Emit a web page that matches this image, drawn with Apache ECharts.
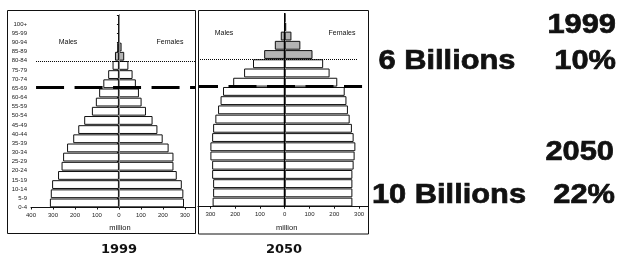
<!DOCTYPE html>
<html>
<head>
<meta charset="utf-8">
<script src="https://cdn.jsdelivr.net/npm/echarts@6/dist/echarts.min.js"></script>
<style>
html, body { margin: 0; padding: 0; background: #fff; }
#main { width: 621px; height: 257px; }
</style>
</head>
<body>
<div id="main"></div>
<script>
// age groups, bottom to top
var ageGroups = ['0-4', '5-9', '10-14', '15-19', '20-24', '25-29', '30-34', '35-39', '40-44', '45-49',
    '50-54', '55-59', '60-64', '65-69', '70-74', '75-79', '80-84', '85-89', '90-94', '95-99', '100+'];

// million people
var male1999   = [314, 310, 304, 277, 261, 254, 236, 208, 185, 158, 123, 105, 90, 71, 49, 29, 18, 8, 2, 0.5, 0.2];
var female1999 = [296, 293, 286, 263, 248, 248, 226, 199, 175, 153, 123, 103, 91, 77, 62, 43, 24, 12, 3, 0.5, 0.2];
var male2050   = [291, 289, 289, 293, 293, 300, 300, 293, 289, 280, 269, 259, 249, 208, 164, 128, 83, 40, 16, 2, 0.3];
var female2050 = [273, 273, 273, 273, 278, 282, 285, 278, 271, 262, 255, 249, 242, 212, 181, 155, 112, 63, 27, 6, 1];

var ticks1999 = [-400, -300, -200, -100, 0, 100, 200, 300];
var ticks2050 = [-300, -200, -100, 0, 100, 200, 300];

var firstOldGroup = 16;   // 80-84 and up are shaded
var retireLine = 13.1;    // 65+ line, in age-group units

var summary = [
    {year: '1999', pop: '6 Billions', share: '10%'},
    {year: '2050', pop: '10 Billions', share: '22%'}
];

var smallFont = 'Liberation Sans';

function bars(values, sign) {
    return values.map(function (v, i) {
        return {
            value: sign * v,
            itemStyle: {color: i >= firstOldGroup ? '#b4b4b4' : '#fff'}
        };
    });
}

function barSeries(name, values, sign, idx, lineColor) {
    var s = {
        name: name,
        type: 'bar',
        xAxisIndex: idx,
        yAxisIndex: idx,
        stack: 'p' + idx,
        barCategoryGap: '4%',
        data: bars(values, sign),
        itemStyle: {borderColor: '#111', borderWidth: 1},
        silent: true
    };
    if (lineColor) {
        s.markLine = {
            symbol: 'none', silent: true, label: {show: false},
            lineStyle: {color: lineColor, width: 1, type: 'solid'},
            data: [{xAxis: 0}]
        };
    }
    return s;
}

// empty helper series on the 0..21 age axis, used only for the guide lines
function guideSeries(idx, lines) {
    return {
        type: 'line', xAxisIndex: idx, yAxisIndex: idx + 2, data: [], silent: true, z: 10,
        markLine: {
            symbol: 'none', silent: true, label: {show: false},
            data: lines
        }
    };
}

function valueAxis(idx, min, max, ticks) {
    return {
        type: 'value', gridIndex: idx, min: min, max: max,
        splitLine: {show: false},
        axisLine: {show: true, lineStyle: {color: '#111', width: 1}},
        axisTick: {show: true, length: 2, customValues: ticks, lineStyle: {color: '#111'}},
        axisLabel: {
            customValues: ticks, margin: 5, fontSize: 6, color: '#222', fontFamily: smallFont,
            formatter: function (v) { return Math.abs(v); }
        }
    };
}

var dotted = {color: '#000', width: 1, type: [1, 1]};
var dashed1 = {color: '#000', width: 3, type: [28, 10.5], dashOffset: 0};
var dashed2 = {color: '#000', width: 3, type: [28, 10.5], dashOffset: 8};

var chart = echarts.init(document.getElementById('main'));
var option = {
    animation: false,
    backgroundColor: '#fff',
    grid: [
        {left: 31, top: 15, width: 164, height: 192.5, outerBoundsMode: 'none'},
        {left: 198, top: 13, width: 170, height: 193.7, outerBoundsMode: 'none'}
    ],
    xAxis: [
        valueAxis(0, -400, 346, ticks1999),
        valueAxis(1, -350, 336, ticks2050)
    ],
    yAxis: [
        {
            type: 'category', gridIndex: 0, data: ageGroups,
            axisLine: {show: true, lineStyle: {color: '#111'}},
            axisTick: {show: true, length: 2, lineStyle: {color: '#111'}},
            axisLabel: {
                interval: 0, fontSize: 6, color: '#222', fontFamily: smallFont,
                margin: 4, verticalAlign: 'top', lineHeight: 9
            }
        },
        {
            type: 'category', gridIndex: 1, data: ageGroups,
            axisLine: {show: false}, axisTick: {show: false}, axisLabel: {show: false}
        },
        {type: 'value', gridIndex: 0, min: 0, max: 21, show: false},
        {type: 'value', gridIndex: 1, min: 0, max: 21, show: false}
    ],
    series: [
        barSeries('Males', male1999, -1, 0, '#8a8a8a'),
        barSeries('Females', female1999, 1, 0),
        barSeries('Males', male2050, -1, 1, '#000'),
        barSeries('Females', female2050, 1, 1),
        guideSeries(0, [
            [{coord: [-377, firstOldGroup], lineStyle: dotted}, {coord: [346, firstOldGroup]}],
            [{coord: [-377, retireLine], lineStyle: dashed1}, {coord: [346, retireLine]}]
        ]),
        guideSeries(1, [
            [{coord: [-350, firstOldGroup], lineStyle: dotted}, {coord: [292, firstOldGroup]}],
            [{coord: [-350, retireLine], lineStyle: dashed2}, {coord: [312, retireLine]}]
        ])
    ]
};
chart.setOption(option);

var zero0 = chart.convertToPixel({xAxisIndex: 0}, 0);
var zero1 = chart.convertToPixel({xAxisIndex: 1}, 0);

function txt(x, y, text, size, weight, family, align, extra) {
    var t = {
        type: 'text', x: x, y: y, z: 100, silent: true,
        style: {
            text: text, fontSize: size, fontWeight: weight, fontFamily: family,
            fill: '#111', align: align || 'center', verticalAlign: 'middle'
        }
    };
    if (extra) {
        for (var k in extra) t[k] = extra[k];
        t.style.stroke = '#111';
        t.style.lineWidth = 0.7;
    }
    return t;
}

var bigFam = 'Liberation Sans';
var stretch = {scaleX: 1.12};

chart.setOption({
    graphic: [
        {type: 'rect', z: 100, silent: true, shape: {x: 7.5, y: 10.5, width: 188, height: 223},
            style: {fill: null, stroke: '#111', lineWidth: 1}},
        {type: 'rect', z: 100, silent: true, shape: {x: 198.5, y: 10.5, width: 170, height: 223.5},
            style: {fill: null, stroke: '#111', lineWidth: 1}},
        txt(68, 42, 'Males', 7, 'normal', smallFont),
        txt(170, 42, 'Females', 7, 'normal', smallFont),
        txt(224, 33.5, 'Males', 7, 'normal', smallFont),
        txt(342, 33.5, 'Females', 7, 'normal', smallFont),
        txt(zero0 + 1, 228, 'million', 7.5, 'normal', smallFont),
        txt(zero1 + 2, 228, 'million', 7.5, 'normal', smallFont),
        txt(119, 250, summary[0].year, 13, 'bold', 'DejaVu Sans'),
        txt(284, 250, summary[1].year, 13, 'bold', 'DejaVu Sans'),
        txt(616, 25, summary[0].year, 27.5, 'bold', bigFam, 'right', stretch),
        txt(447, 61, summary[0].pop, 27.5, 'bold', bigFam, 'center', stretch),
        txt(616, 61, summary[0].share, 27.5, 'bold', bigFam, 'right', stretch),
        txt(614, 152, summary[1].year, 27.5, 'bold', bigFam, 'right', stretch),
        txt(449, 195.5, summary[1].pop, 27.5, 'bold', bigFam, 'center', stretch),
        txt(615, 195.5, summary[1].share, 27.5, 'bold', bigFam, 'right', stretch)
    ]
});
</script>
</body>
</html>
